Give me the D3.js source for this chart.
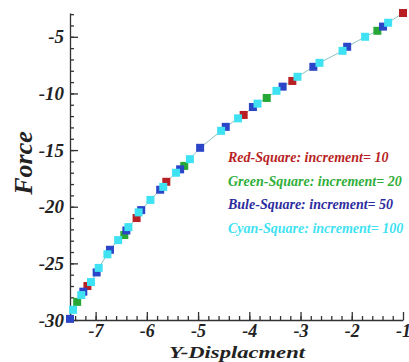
<!DOCTYPE html>
<html lang="en">
<head>
    <meta charset="UTF-8">
    <title>Force vs Y-Displacment</title>
    <script src="https://d3js.org/d3.v7.min.js"></script>
    <style>
        body { margin: 0; background: #fff; }
        text { font-family: "Liberation Serif", "Times New Roman", serif; font-weight: bold; font-style: italic; }
    </style>
</head>
<body>
<script>
    // series: [displacement, force]
    const redPts = [[-7.16, -27.0], [-6.2, -21.0], [-5.62, -17.8], [-4.11, -11.9], [-3.16, -8.9], [-1.0, -2.9]];
    const greenPts = [[-7.36, -28.4], [-6.44, -22.5], [-5.27, -16.4], [-3.66, -10.4], [-1.5, -4.47]];
    const bluePts = [[-7.5, -29.9], [-7.24, -27.5], [-6.98, -25.8], [-6.72, -23.8], [-6.4, -22.1], [-6.11, -20.3],
        [-5.74, -18.5], [-5.35, -16.7], [-4.96, -14.8], [-4.46, -12.95], [-3.93, -11.2], [-3.35, -9.4],
        [-2.75, -7.65], [-2.09, -5.88], [-1.39, -4.1]];
    const cyanPts = [[-7.44, -29.1], [-7.28, -27.8], [-7.09, -26.65], [-6.94, -25.4], [-6.77, -24.2], [-6.56, -22.95],
        [-6.36, -21.8], [-6.16, -20.5], [-5.93, -19.4], [-5.68, -18.25], [-5.43, -17.0], [-5.16, -15.8],
        [-4.55, -13.3], [-4.22, -12.2], [-3.84, -10.9], [-3.47, -9.77], [-3.06, -8.53], [-2.63, -7.3],
        [-2.18, -6.24], [-1.74, -5.0], [-1.29, -3.76]];

    const legendLabels = ["Red-Square: increment= 10", "Green-Square: increment= 20",
        "Bule-Square: increment= 50", "Cyan-Square: increment= 100"];
    const xTicks = [-7, -6, -5, -4, -3, -2, -1];
    const yTicks = [-5, -10, -15, -20, -25, -30];

    const width = 409, height = 362;
    const svg = d3.select("body").append("svg").attr("width", width).attr("height", height);

    const x = d3.scaleLinear().domain([-7.5, -1]).range([70, 403]);
    const y = d3.scaleLinear().domain([-30, -2.9]).range([320, 13]);

    // minor ticks
    svg.append("g").attr("transform", "translate(0,320)")
        .call(d3.axisBottom(x).tickValues(d3.range(-7.4, -1.01, 0.2)).tickSize(-4).tickFormat(""))
        .call(g => g.select(".domain").remove());
    svg.append("g").attr("transform", "translate(70,0)")
        .call(d3.axisLeft(y).tickValues(d3.range(-29, -2.9, 1)).tickSize(-4).tickFormat(""))
        .call(g => g.select(".domain").remove());

    const xAxis = svg.append("g").attr("transform", "translate(0,320)")
        .call(d3.axisBottom(x).tickValues(xTicks).tickSizeInner(-8).tickSizeOuter(0).tickPadding(4).tickFormat(d => d));
    const yAxis = svg.append("g").attr("transform", "translate(70,0)")
        .call(d3.axisLeft(y).tickValues(yTicks).tickSizeInner(-8).tickSizeOuter(0).tickPadding(6).tickFormat(d => d));

    svg.selectAll(".tick line, .domain").attr("stroke", "#333").attr("stroke-width", 1.3);
    xAxis.selectAll("text").attr("font-size", 18).attr("fill", "#222").attr("font-family", null);
    yAxis.selectAll("text").attr("font-size", 19).attr("fill", "#222").attr("font-family", null);

    // connecting curve
    const all = redPts.concat(greenPts, bluePts, cyanPts).sort((a, b) => a[0] - b[0]);
    svg.append("path").datum(all)
        .attr("fill", "none").attr("stroke", "#8cc4c4").attr("stroke-width", 1)
        .attr("d", d3.line().x(d => x(d[0])).y(d => y(d[1])));

    const series = [
        {pts: redPts, color: "#b81f24"},
        {pts: greenPts, color: "#27a836"},
        {pts: bluePts, color: "#2a45c8"},
        {pts: cyanPts, color: "#3fe2f2"}
    ];
    const s = 8;
    series.forEach(sr => {
        svg.append("g").selectAll("rect").data(sr.pts).enter().append("rect")
            .attr("x", d => x(d[0]) - s / 2).attr("y", d => y(d[1]) - s / 2)
            .attr("width", s).attr("height", s).attr("fill", sr.color);
    });

    // legend
    const legendColors = ["#b81f24", "#2fae3a", "#2c2c9e", "#3fe2f2"];
    svg.append("g").selectAll("text").data(legendLabels).enter().append("text")
        .attr("x", 228).attr("y", (d, i) => 162 + i * 23.7)
        .attr("font-size", 14).attr("fill", (d, i) => legendColors[i]).text(d => d);

    // axis titles
    svg.append("text").attr("x", 237).attr("y", 358).attr("text-anchor", "middle")
        .attr("font-size", 17).attr("fill", "#222")
        .attr("textLength", 136).attr("lengthAdjust", "spacingAndGlyphs").text("Y-Displacment");
    svg.append("text").attr("transform", "translate(32,163) rotate(-90)").attr("text-anchor", "middle")
        .attr("font-size", 26).attr("fill", "#222").text("Force");
</script>
</body>
</html>
